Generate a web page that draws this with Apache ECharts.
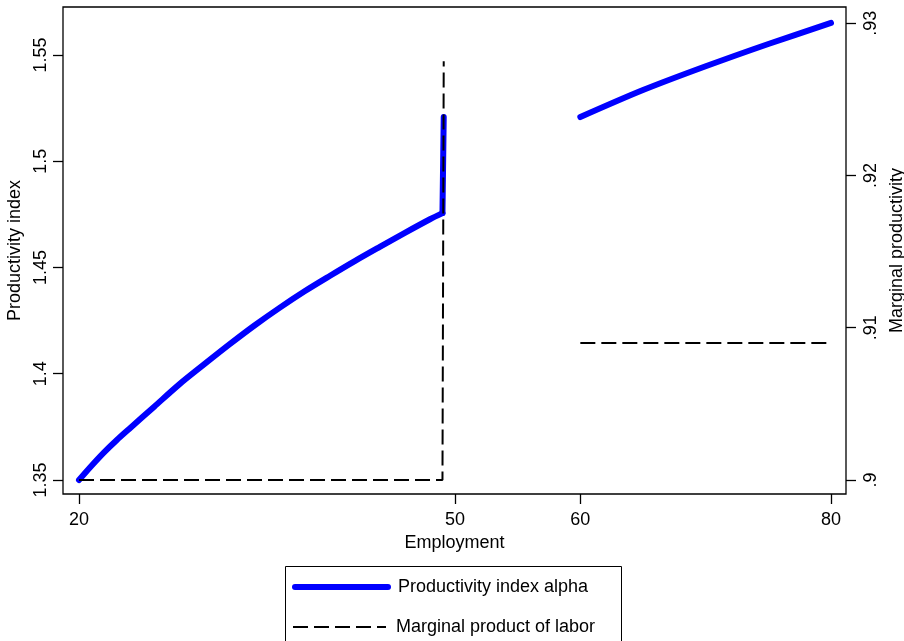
<!DOCTYPE html>
<html>
<head>
<meta charset="utf-8">
<script src="https://cdn.jsdelivr.net/npm/echarts@6/dist/echarts.min.js"></script>
<style>html,body{margin:0;padding:0;background:#fff;}#c{width:904px;height:641px;}</style>
</head>
<body>
<div id="c"></div>
<script>
// Employment values and productivity index alpha (left axis)
var alphaX = [20, 21, 22, 23, 24, 26, 28, 30, 32, 34, 36, 38, 40, 42, 44, 46, 48, 49, null, 60, 65, 70, 75, 80];
var alphaY = [1.3500, 1.3567, 1.3630, 1.3687, 1.3740, 1.3845, 1.3950, 1.4045, 1.4138, 1.4227, 1.4310, 1.4388, 1.4460, 1.4530, 1.4597, 1.4663, 1.4727, 1.4756, null, 1.5208, 1.5335, 1.5447, 1.5552, 1.5651];
// jump of alpha at the threshold
var alphaJumpX = [49, 49.1];
var alphaJumpY = [1.4756, 1.5208];
// Marginal product of labor (right axis)
var mplX = [20, 49, 49.1, null, 60, 80];
var mplY = [0.900, 0.900, 0.9275, null, 0.909, 0.909];
// Tick labels
var xTicks = [20, 50, 60, 80];
var leftTicks = [1.35, 1.4, 1.45, 1.5, 1.55];
var rightTicks = [0.90, 0.91, 0.92, 0.93];
var seriesNames = ['Productivity index alpha', 'Marginal product of labor'];

function gapPairs(xs, ys) {
  return xs.map(function (x, i) { return x === null ? '-' : [x, ys[i]]; });
}

var FONT = 'Liberation Sans';
var FS = 18;
var chart = echarts.init(document.getElementById('c'), null, {renderer: 'canvas'});
var tickStyle = {show: true, length: 10, inside: false, lineStyle: {color: '#000', width: 1.3}};
var blueLine = {color: '#0000ff', width: 6, cap: 'round', join: 'round'};
function legendFor(i, top) {
  return {
    left: 292, top: top, orient: 'vertical',
    itemWidth: 93, itemHeight: 18,
    padding: 0,
    data: [seriesNames[i]],
    itemStyle: {opacity: 0},
    lineStyle: i === 0 ? {width: 6, color: '#0000ff', cap: 'round'} : {width: 2, color: '#000', type: [15, 6]},
    textStyle: {fontSize: FS, fontFamily: FONT, color: '#000', padding: [0, 0, 0, 5]}
  };
}
chart.setOption({
  backgroundColor: '#fff',
  animation: false,
  grid: {left: 63, right: 58, top: 7, bottom: 147, outerBoundsMode: 'none', containLabel: false,
         show: true, borderColor: '#000', borderWidth: 1.3, backgroundColor: 'transparent'},
  graphic: [{
    type: 'rect', left: 283, top: 564, silent: true,
    shape: {width: 336, height: 90},
    style: {fill: 'none', stroke: '#000', lineWidth: 1}
  }],
  legend: [legendFor(0, 578), legendFor(1, 618)],
  xAxis: {
    type: 'value', min: 18.723, max: 81.197,
    name: 'Employment', nameLocation: 'middle', nameGap: 38,
    nameTextStyle: {fontSize: FS, fontFamily: FONT, color: '#000'},
    axisLine: {show: false},
    axisTick: Object.assign({customValues: xTicks}, tickStyle),
    axisLabel: {customValues: xTicks, margin: 17, fontSize: FS, fontFamily: FONT, color: '#000'},
    splitLine: {show: false}
  },
  yAxis: [{
    type: 'value', position: 'left', min: 1.3434, max: 1.5726,
    name: 'Productivity index', nameLocation: 'middle', nameGap: 26,
    nameTextStyle: {fontSize: FS, fontFamily: FONT, color: '#000'},
    axisLine: {show: false},
    axisTick: Object.assign({customValues: leftTicks}, tickStyle),
    axisLabel: {customValues: leftTicks, rotate: 90, margin: 13, fontSize: FS, fontFamily: FONT, color: '#000',
      formatter: function (v) { return String(+(+v).toFixed(2)); }},
    splitLine: {show: false}
  }, {
    type: 'value', position: 'right', min: 0.89908, max: 0.93106,
    name: 'Marginal productivity', nameLocation: 'middle', nameGap: 27,
    nameTextStyle: {fontSize: FS, fontFamily: FONT, color: '#000'},
    axisLine: {show: false},
    axisTick: Object.assign({customValues: rightTicks}, tickStyle),
    axisLabel: {customValues: rightTicks, rotate: 90, margin: 16, fontSize: FS, fontFamily: FONT, color: '#000',
      formatter: function (v) { return String(+(+v).toFixed(2)).replace(/^0/, ''); }},
    splitLine: {show: false}
  }],
  series: [{
    name: seriesNames[0], type: 'line', yAxisIndex: 0, symbol: 'none', showSymbol: false, connectNulls: false,
    smooth: 0.3,
    data: gapPairs(alphaX, alphaY),
    lineStyle: blueLine,
    itemStyle: {color: '#0000ff'}
  }, {
    name: seriesNames[0], type: 'line', yAxisIndex: 0, symbol: 'none', showSymbol: false,
    data: gapPairs(alphaJumpX, alphaJumpY),
    lineStyle: blueLine,
    itemStyle: {color: '#0000ff'}
  }, {
    name: seriesNames[1], type: 'line', yAxisIndex: 1, symbol: 'none', showSymbol: false, connectNulls: false,
    data: gapPairs(mplX, mplY),
    lineStyle: {color: '#000', width: 2, type: [15, 6]},
    itemStyle: {color: '#000'}
  }]
});
</script>
</body>
</html>
